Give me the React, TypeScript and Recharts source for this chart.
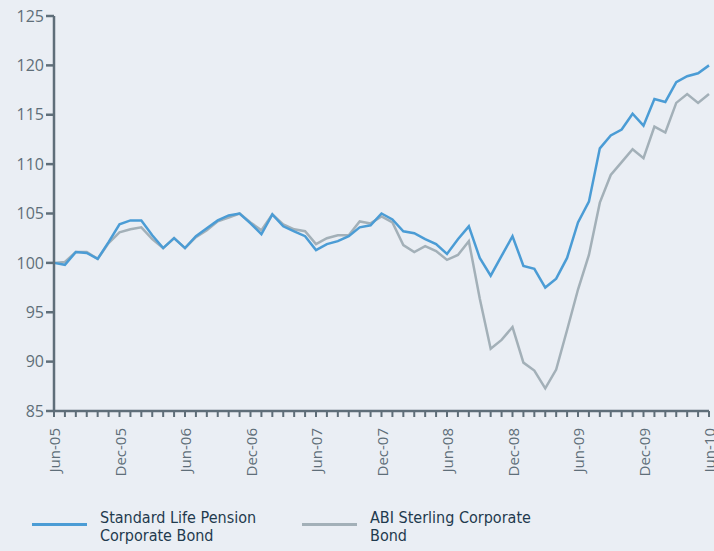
import { LineChart, Line, XAxis, YAxis, Legend } from 'recharts';

// monthly index values, Jun-05 .. Jun-10 (rebased to 100)
const months = [
  'Jun-05', 'Jul-05', 'Aug-05', 'Sep-05', 'Oct-05', 'Nov-05', 'Dec-05', 'Jan-06', 'Feb-06', 'Mar-06', 'Apr-06', 'May-06',
  'Jun-06', 'Jul-06', 'Aug-06', 'Sep-06', 'Oct-06', 'Nov-06', 'Dec-06', 'Jan-07', 'Feb-07', 'Mar-07', 'Apr-07', 'May-07',
  'Jun-07', 'Jul-07', 'Aug-07', 'Sep-07', 'Oct-07', 'Nov-07', 'Dec-07', 'Jan-08', 'Feb-08', 'Mar-08', 'Apr-08', 'May-08',
  'Jun-08', 'Jul-08', 'Aug-08', 'Sep-08', 'Oct-08', 'Nov-08', 'Dec-08', 'Jan-09', 'Feb-09', 'Mar-09', 'Apr-09', 'May-09',
  'Jun-09', 'Jul-09', 'Aug-09', 'Sep-09', 'Oct-09', 'Nov-09', 'Dec-09', 'Jan-10', 'Feb-10', 'Mar-10', 'Apr-10', 'May-10',
  'Jun-10',
];

const standardLife = [
  100.0, 99.8, 101.1, 101.0, 100.4, 102.1, 103.9, 104.3, 104.3, 102.8, 101.5, 102.5,
  101.5, 102.7, 103.5, 104.3, 104.8, 105.0, 104.0, 102.9, 104.9, 103.7, 103.2, 102.7,
  101.3, 101.9, 102.2, 102.7, 103.6, 103.8, 105.0, 104.4, 103.2, 103.0, 102.4, 101.9,
  100.9, 102.4, 103.7, 100.5, 98.7, 100.7, 102.7, 99.7, 99.4, 97.5, 98.4, 100.5,
  104.1, 106.2, 111.6, 112.9, 113.5, 115.1, 113.9, 116.6, 116.3, 118.3, 118.9, 119.2,
  120.0,
];

const abiSterling = [
  100.0, 100.1, 101.1, 101.1, 100.4, 102.0, 103.1, 103.4, 103.6, 102.4, 101.5, 102.5,
  101.5, 102.6, 103.3, 104.2, 104.6, 105.0, 104.1, 103.3, 104.9, 103.9, 103.4, 103.2,
  101.9, 102.5, 102.8, 102.8, 104.2, 104.0, 104.7, 104.1, 101.8, 101.1, 101.7, 101.2,
  100.3, 100.8, 102.2, 96.4, 91.3, 92.2, 93.5, 89.9, 89.1, 87.3, 89.2, 93.2,
  97.3, 100.8, 106.1, 108.9, 110.2, 111.5, 110.6, 113.8, 113.2, 116.2, 117.1, 116.2,
  117.1,
];

const tickValues = [85, 90, 95, 100, 105, 110, 115, 120, 125];
const labelledMonths = ['Jun-05', 'Dec-05', 'Jun-06', 'Dec-06', 'Jun-07', 'Dec-07', 'Jun-08', 'Dec-08', 'Jun-09', 'Dec-09', 'Jun-10'];

const data = months.map((m, i) => ({ month: m, sl: standardLife[i], abi: abiSterling[i] }));

const AXIS = '#5f6e79';
const BLUE = '#4b9cd5';
const GREY = '#a3b0b8';
const FONT = '"Open Sans", "Noto Sans", sans-serif';

function MonthTick({ x, y, payload }: any) {
  if (!labelledMonths.includes(payload.value)) return null;
  return (
    <text x={x} y={y + 9} transform={`rotate(-90, ${x}, ${y + 9})`} textAnchor="end" dominantBaseline="central"
      fill={AXIS} fontSize={15} fontFamily={FONT}>
      {payload.value}
    </text>
  );
}

function LegendBox() {
  const item = (color: string, l1: string, l2: string, left: number) => (
    <div style={{ position: 'absolute', left, top: -2, display: 'flex', alignItems: 'flex-start' }}>
      <div style={{ width: 55, height: 3, background: color, marginTop: 14, marginRight: 13 }} />
      <div style={{ fontFamily: '"Liberation Sans Narrow", "DejaVu Sans Condensed", sans-serif', fontSize: 16, lineHeight: '18px', color: '#1f3a4e' }}>
        <div>{l1}</div>
        <div>{l2}</div>
      </div>
    </div>
  );
  return (
    <div style={{ position: 'relative', width: 714, height: 40 }}>
      {item(BLUE, 'Standard Life Pension', 'Corporate Bond', 32)}
      {item(GREY, 'ABI Sterling Corporate', 'Bond', 302)}
    </div>
  );
}

export default function App() {
  return (
    <div style={{ position: 'absolute', left: 0, top: 0, width: 714, height: 551, background: '#eaeef4' }}>
      <LineChart width={714} height={551} data={data} margin={{ top: 16, right: 5, bottom: 0, left: 0 }}>
        <XAxis dataKey="month" interval={0} tick={<MonthTick />} tickSize={6} height={100}
          axisLine={{ stroke: AXIS, strokeWidth: 2.5 }} tickLine={{ stroke: AXIS, strokeWidth: 2 }} />
        <YAxis domain={[85, 125]} ticks={tickValues} width={54} tickSize={8} interval={0}
          axisLine={{ stroke: AXIS, strokeWidth: 2.5 }} tickLine={{ stroke: AXIS, strokeWidth: 2.5 }}
          tick={{ fill: AXIS, fontSize: 16, fontFamily: FONT }} />
        <Legend verticalAlign="bottom" content={<LegendBox />} wrapperStyle={{ left: 0, bottom: 0, width: 714, height: 40 }} />
        <Line dataKey="abi" stroke={GREY} strokeWidth={2.5} dot={false} isAnimationActive={false} />
        <Line dataKey="sl" stroke={BLUE} strokeWidth={2.5} dot={false} isAnimationActive={false} />
      </LineChart>
    </div>
  );
}
